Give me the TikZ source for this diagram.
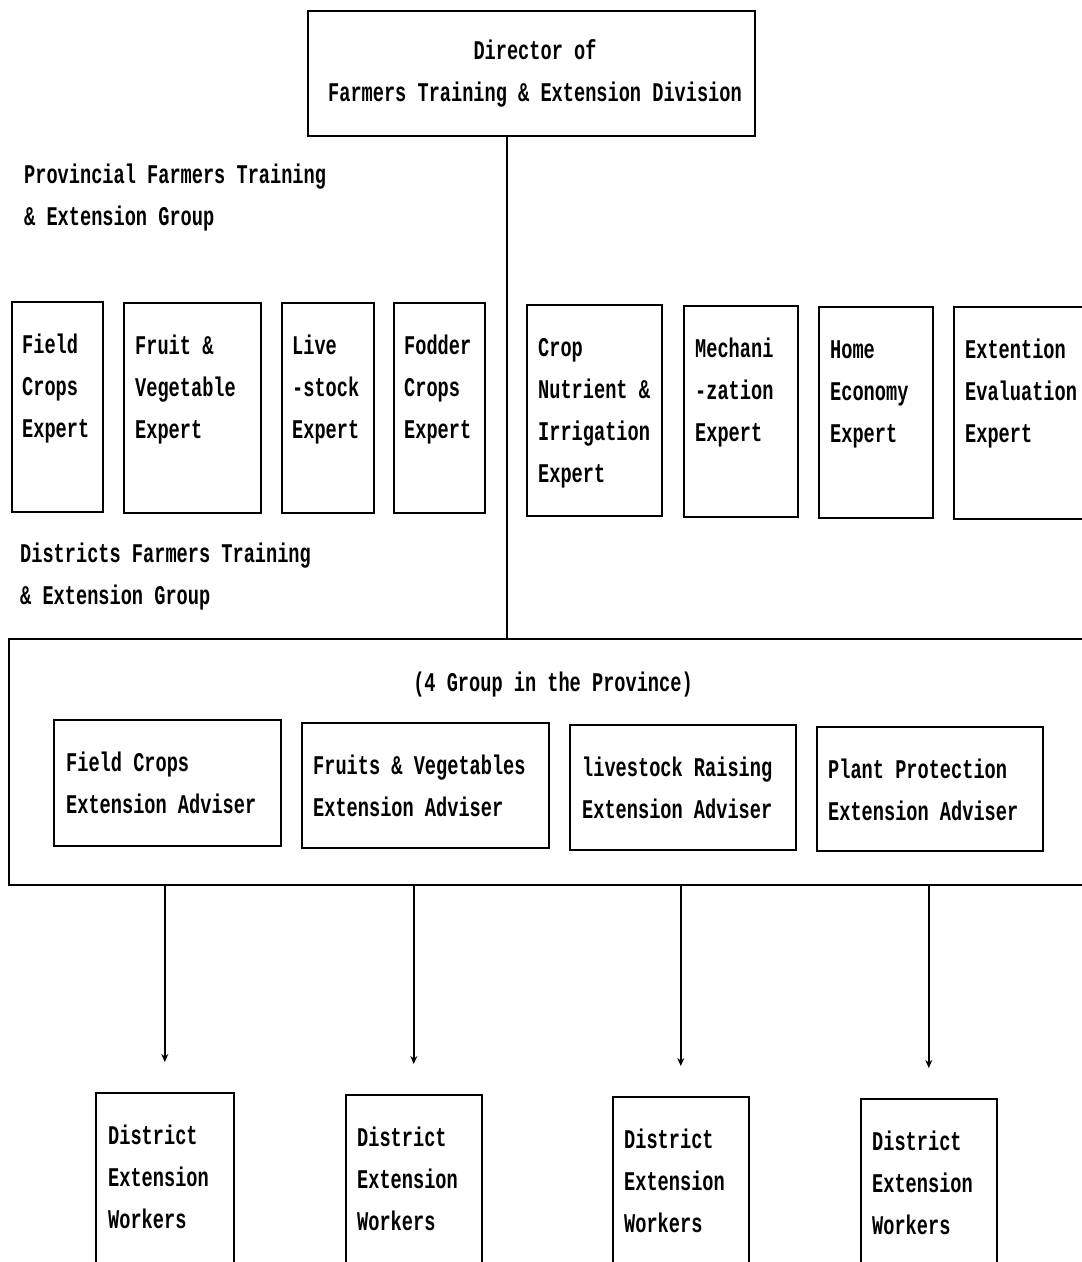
\documentclass[tikz,border=0pt]{standalone}
\usepackage{fontspec}
\newfontfamily\chartfont[FakeStretch=0.69]{Liberation Mono}
\usetikzlibrary{arrows.meta,calc}

% stacked lines, first baseline is the box baseline
\newcommand\lnsleft[1]{\vtop{\baselineskip=42pt\lineskiplimit=-20pt\halign{##\hfil\cr#1\crcr}}}
\newcommand\lnscenter[1]{\vtop{\baselineskip=42pt\lineskiplimit=-20pt\halign{\hfil##\hfil\cr#1\crcr}}}

\tikzset{
  frame/.style={draw, line width=1.6pt, rectangle, inner sep=0pt, anchor=north west},
  txt/.style={font=\chartfont\bfseries\fontsize{27}{42}\selectfont, inner sep=0pt, anchor=base west},
  link/.style={line width=1.6pt},
  arrowlink/.style={line width=1.5pt, -{Stealth[length=8pt,width=7pt]}, shorten >=30pt}
}

\begin{document}
\begin{tikzpicture}[x=1pt,y=-1pt]
\useasboundingbox (0,0) rectangle (1082,1262);
\clip (0,0) rectangle (1082,1262);
\fill[white] (0,0) rectangle (1082,1262);

% top: division director
\node[frame, minimum width=447pt, minimum height=125pt] (dir) at (307,10) {};
\node[txt, anchor=base] (dirt) at (535,59) {\lnscenter{Director of\cr Farmers Training \& Extension Division}};

% headings
\node[txt] (prov) at (24,183) {\lnsleft{Provincial Farmers Training\cr \& Extension Group}};
\node[txt] (dist) at (20,562) {\lnsleft{Districts Farmers Training\cr \& Extension Group}};

% provincial experts
\node[frame, minimum width=91pt,  minimum height=210pt] (e1) at (11,301) {};
\node[frame, minimum width=137pt, minimum height=210pt] (e2) at (123,302) {};
\node[frame, minimum width=92pt,  minimum height=210pt] (e3) at (281,302) {};
\node[frame, minimum width=91pt,  minimum height=210pt] (e4) at (393,302) {};
\node[frame, minimum width=135pt, minimum height=211pt] (e5) at (526,304) {};
\node[frame, minimum width=114pt, minimum height=211pt] (e6) at (683,305) {};
\node[frame, minimum width=114pt, minimum height=211pt] (e7) at (818,306) {};
\node[frame, minimum width=150pt, minimum height=212pt] (e8) at (953,306) {};

\node[txt] (e1t) at ($(e1.north west)+(11,52)$) {\lnsleft{Field\cr Crops\cr Expert}};
\node[txt] (e2t) at ($(e2.north west)+(12,52)$) {\lnsleft{Fruit \&\cr Vegetable\cr Expert}};
\node[txt] (e3t) at ($(e3.north west)+(11,52)$) {\lnsleft{Live\cr -stock\cr Expert}};
\node[txt] (e4t) at ($(e4.north west)+(11,52)$) {\lnsleft{Fodder\cr Crops\cr Expert}};
\node[txt] (e5t) at ($(e5.north west)+(12,52)$) {\lnsleft{Crop\cr Nutrient \&\cr Irrigation\cr Expert}};
\node[txt] (e6t) at ($(e6.north west)+(12,52)$) {\lnsleft{Mechani\cr -zation\cr Expert}};
\node[txt] (e7t) at ($(e7.north west)+(12,52)$) {\lnsleft{Home\cr Economy\cr Expert}};
\node[txt] (e8t) at ($(e8.north west)+(12,52)$) {\lnsleft{Extention\cr Evaluation\cr Expert}};

% district group frame
\node[frame, minimum width=1100pt, minimum height=246pt] (grp) at (8,638) {};
\node[txt, anchor=base] (grpt) at (553,691) {(4 Group in the Province)};

% extension advisers
\node[frame, minimum width=227pt, minimum height=126pt] (a1) at (53,719) {};
\node[frame, minimum width=247pt, minimum height=125pt] (a2) at (301,722) {};
\node[frame, minimum width=226pt, minimum height=125pt] (a3) at (569,724) {};
\node[frame, minimum width=226pt, minimum height=124pt] (a4) at (816,726) {};

\node[txt] (a1t) at ($(a1.north west)+(13,52)$) {\lnsleft{Field Crops\cr Extension Adviser}};
\node[txt] (a2t) at ($(a2.north west)+(12,52)$) {\lnsleft{Fruits \& Vegetables\cr Extension Adviser}};
\node[txt] (a3t) at ($(a3.north west)+(13,52)$) {\lnsleft{livestock Raising\cr Extension Adviser}};
\node[txt] (a4t) at ($(a4.north west)+(12,52)$) {\lnsleft{Plant Protection\cr Extension Adviser}};

% district extension workers
\node[frame, minimum width=138pt, minimum height=200pt] (w1) at (95,1092) {};
\node[frame, minimum width=136pt, minimum height=200pt] (w2) at (345,1094) {};
\node[frame, minimum width=136pt, minimum height=200pt] (w3) at (612,1096) {};
\node[frame, minimum width=136pt, minimum height=200pt] (w4) at (860,1098) {};

\node[txt] (w1t) at ($(w1.north west)+(13,52)$) {\lnsleft{District\cr Extension\cr Workers}};
\node[txt] (w2t) at ($(w2.north west)+(12,52)$) {\lnsleft{District\cr Extension\cr Workers}};
\node[txt] (w3t) at ($(w3.north west)+(12,52)$) {\lnsleft{District\cr Extension\cr Workers}};
\node[txt] (w4t) at ($(w4.north west)+(12,52)$) {\lnsleft{District\cr Extension\cr Workers}};

% connectors
\coordinate (trunk) at (507,0);
\draw[link] (dir.south -| trunk) -- (grp.north -| trunk);
\draw[arrowlink] (grp.south -| w1.north) -- (w1.north);
\draw[arrowlink] (grp.south -| w2.north) -- (w2.north);
\draw[arrowlink] (grp.south -| w3.north) -- (w3.north);
\draw[arrowlink] (grp.south -| w4.north) -- (w4.north);
\end{tikzpicture}
\end{document}
